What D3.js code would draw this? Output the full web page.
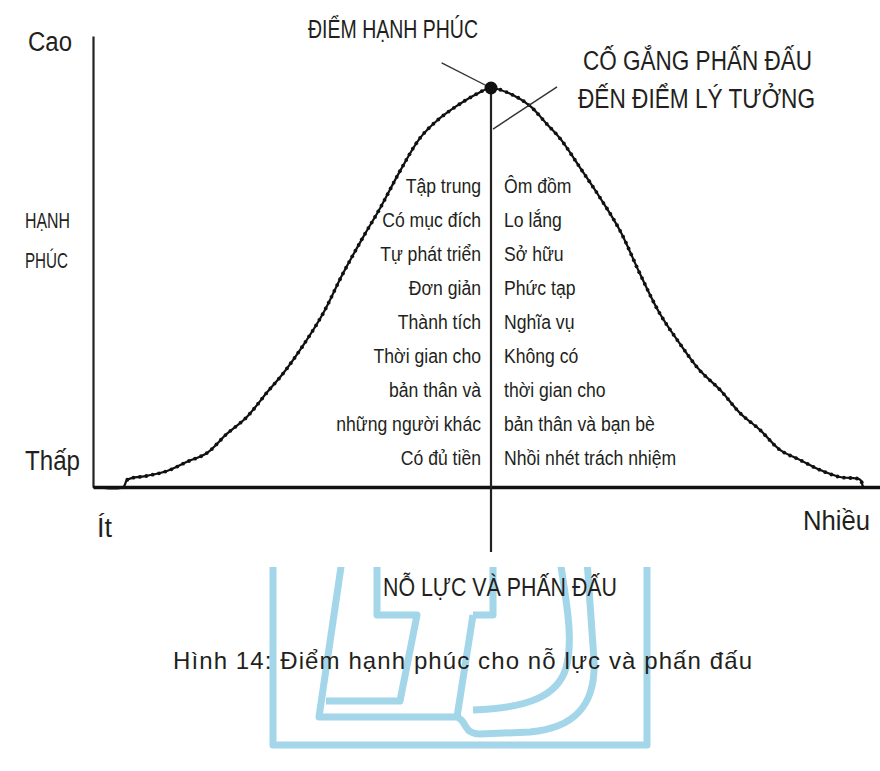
<!DOCTYPE html>
<html>
<head>
<meta charset="utf-8">
<script src="https://cdn.jsdelivr.net/npm/d3@7"></script>
<style>
  html, body { margin: 0; padding: 0; background: #fff; }
  text { font-family: "Liberation Sans", Arial, sans-serif; fill: #231f20; }
</style>
</head>
<body>
<svg id="chart"></svg>
<script>
// nỗ lực (0..100) và hạnh phúc (0..100)
const noLuc = [0, 3.8, 4.3, 6.8, 9.3, 11.8, 14.3, 16.8, 19.3, 21.9, 23.9, 26.4, 28.9, 31.4, 33.9, 36.1, 38.6, 41.1, 43.2, 45.7, 48.2, 50,
    52.8, 54.9, 57.0, 58.7, 61.2, 63.7, 66.2, 68.7, 71.2, 73.7, 76.2, 78.8, 81.3, 83.8, 86.3, 88.8, 91.3, 93.8, 96.4, 96.8, 98.9];
const hanhPhuc = [0, 0, 1.8, 2.8, 4.0, 6.3, 8.5, 13.3, 17.5, 23.8, 28.5, 35.5, 43.5, 53.5, 62.5, 70.0, 79.3, 87.5, 91.8, 95.5, 98.5, 100,
    98.2, 95.5, 91.0, 87.3, 80.0, 72.5, 64.3, 53.5, 43.5, 36.0, 29.3, 24.3, 18.5, 14.3, 9.3, 6.8, 4.3, 2.5, 1.8, 0, 0];

const diemHanhPhuc = { x: 50, y: 100 };
// hai đường chỉ dẫn
const chiDan1 = [[43.8, 106.3], [50, 100]];
const chiDan2 = [[58.3, 100.3], [50.25, 89.7]];

const benTrai = ['Tập trung', 'Có mục đích', 'Tự phát triển', 'Đơn giản', 'Thành tích',
    'Thời gian cho', 'bản thân và', 'những người khác', 'Có đủ tiền'];
const benPhai = ['Ôm đồm', 'Lo lắng', 'Sở hữu', 'Phức tạp', 'Nghĩa vụ',
    'Không có', 'thời gian cho', 'bản thân và bạn bè', 'Nhồi nhét trách nhiệm'];

const width = 880, height = 771;
const svg = d3.select('#chart').attr('width', width).attr('height', height);

const x = d3.scaleLinear().domain([0, 100]).range([93, 889]);
const y = d3.scaleLinear().domain([0, 100]).range([487, 88]);

// ép chữ hẹp lại giống font gốc
function hep(sel, k) {
    sel.each(function () {
        const w = this.getComputedTextLength();
        d3.select(this).attr('textLength', w * k).attr('lengthAdjust', 'spacingAndGlyphs');
    });
}

// watermark LTS
const wm = svg.append('g')
    .attr('fill', 'none')
    .attr('stroke', '#a2d6e8')
    .attr('stroke-width', 7)
    .attr('stroke-linejoin', 'round');
wm.append('clipPath').attr('id', 'wmclip')
    .append('rect').attr('x', 0).attr('y', 567).attr('width', width).attr('height', height - 567);
wm.attr('clip-path', 'url(#wmclip)');
[
    'M273,560 V745 H647 V560',
    'M342,560 L319,717 L457,717 Q462,719 466,727 Q470,734 480,734 L530,732 C575,728 596,705 594,660 L587,560',
    'M560,560 C566,600 574,640 566,668 C558,695 530,708 473,710',
    'M377,560 V615 H417 L400,701 H326',
    'M473,615 L457,717',
    'M473,615 H493 V560'
].forEach(d => wm.append('path').attr('d', d));

// trục
const xTruc = x.copy().domain([0, 98.9]).range([93, 880]);
svg.append('g')
    .attr('transform', 'translate(0,' + y(0) + ')')
    .call(d3.axisBottom(xTruc).tickValues([]).tickSizeOuter(0))
    .select('.domain').attr('stroke', '#111').attr('stroke-width', 3.5);

const yTruc = y.copy().domain([0, 113]).range([487, 36]);
svg.append('g')
    .attr('transform', 'translate(' + x(0) + ',0)')
    .call(d3.axisLeft(yTruc).tickValues([]).tickSizeOuter(0))
    .select('.domain').attr('stroke', '#222').attr('stroke-width', 2.2);

// đường thẳng đứng
svg.append('line')
    .attr('x1', x(50)).attr('x2', x(50))
    .attr('y1', y(100)).attr('y2', y(-16.3))
    .attr('stroke', '#222').attr('stroke-width', 2.2);

// đường cong
const duLieu = noLuc.map((d, i) => ({ x: d, y: hanhPhuc[i] }));
const duong = svg.append('path')
    .datum(duLieu)
    .attr('fill', 'none')
    .attr('stroke', '#111')
    .attr('stroke-width', 2.2)
    .attr('d', d3.line().x(d => x(d.x)).y(d => y(d.y)).curve(d3.curveCatmullRom.alpha(0.5)));

// các hạt nhỏ dọc theo đường cong
const node = duong.node();
const tong = node.getTotalLength();
const hat = d3.range(0, tong, 6.5).map(l => node.getPointAtLength(l)).filter(p => p.y < y(0) - 3);
svg.selectAll('.hat').data(hat).enter()
    .append('circle').classed('hat', true)
    .attr('cx', d => d.x).attr('cy', d => d.y)
    .attr('r', 1.9).attr('fill', '#111');

// chỉ dẫn
[chiDan1, chiDan2].forEach(c => {
    svg.append('line')
        .attr('x1', x(c[0][0])).attr('y1', y(c[0][1]))
        .attr('x2', x(c[1][0])).attr('y2', y(c[1][1]))
        .attr('stroke', '#333').attr('stroke-width', 1.4);
});
svg.append('circle')
    .attr('cx', x(diemHanhPhuc.x)).attr('cy', y(diemHanhPhuc.y))
    .attr('r', 6.5).attr('fill', '#111');

// nhãn hai cột
const hang = d3.scalePoint().domain(d3.range(benTrai.length)).range([193, 465]);
svg.selectAll('.trai').data(benTrai).enter()
    .append('text').classed('trai', true)
    .attr('x', x(50) - 10).attr('y', (d, i) => hang(i))
    .attr('text-anchor', 'end')
    .style('font-size', '20px')
    .text(d => d)
    .call(hep, 0.88);
svg.selectAll('.phai').data(benPhai).enter()
    .append('text').classed('phai', true)
    .attr('x', x(50) + 13).attr('y', (d, i) => hang(i))
    .style('font-size', '20px')
    .text(d => d)
    .call(hep, 0.88);

// chữ
function chu(t, px, py, size, len) {
    const el = svg.append('text').attr('x', px).attr('y', py)
        .style('font-size', size + 'px').text(t);
    if (len) el.attr('textLength', len).attr('lengthAdjust', 'spacingAndGlyphs');
    return el;
}
chu('Cao', 28, 51, 27, 44);
chu('Thấp', 25, 470, 27, 55);
chu('Ít', 97, 537, 27, 15);
chu('Nhiều', 803, 530, 27, 67);
chu('HẠNH', 25, 228, 22, 45);
chu('PHÚC', 25, 268, 22, 43);
chu('ĐIỂM HẠNH PHÚC', 308, 38, 25, 170);
chu('CỐ GẮNG PHẤN ĐẤU', 583, 70, 27, 229);
chu('ĐẾN ĐIỂM LÝ TƯỞNG', 578, 108, 27, 237);
chu('NỖ LỰC VÀ PHẤN ĐẤU', 383, 596, 25, 234);
const cap = chu('Hình 14: Điểm hạnh phúc cho nỗ lực và phấn đấu', 173, 669, 24, 579);
cap.attr('lengthAdjust', 'spacing');
</script>
</body>
</html>
